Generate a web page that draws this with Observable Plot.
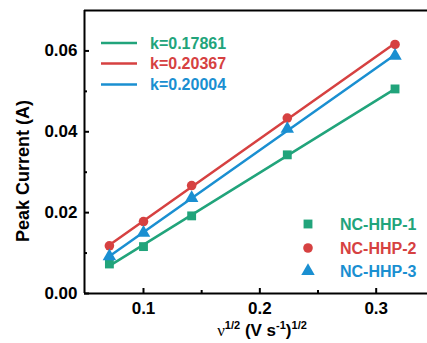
<!DOCTYPE html>
<html>
<head>
<meta charset="utf-8">
<script src="https://cdn.jsdelivr.net/npm/d3@7"></script>
<script src="https://cdn.jsdelivr.net/npm/@observablehq/plot@0.6"></script>
<style>
  html, body { margin: 0; padding: 0; background: white; }
  #chart { width: 427px; height: 343px; }
</style>
</head>
<body>
<div id="chart"></div>
<script>
// ---- data ----
const xVals = [0.0707, 0.1, 0.1414, 0.2236, 0.3162];
const hhp1 = [0.0073, 0.0116, 0.0192, 0.0343, 0.0506];
const hhp2 = [0.0118, 0.0178, 0.0267, 0.0434, 0.0616];
const hhp3 = [0.0092, 0.0150, 0.0236, 0.0407, 0.0588];
const seriesNames = ["NC-HHP-1", "NC-HHP-2", "NC-HHP-3"];
const slopeLabels = ["k=0.17861", "k=0.20367", "k=0.20004"];
const xMajor = [0.1, 0.2, 0.3];
const xMinor = [0.15, 0.25];
const yMajor = [0, 0.02, 0.04, 0.06];
const yMinor = [0.01, 0.03, 0.05];

// ---- styling ----
const colors = ["#21a47b", "#d64141", "#1a8fd1"];
const symbols = ["square", "circle", "triangle"];
const radii = [5, 4.8, 5];
const xDomain = [0.0493, 0.3441];
const yDomain = [0, 0.07];
const FONT = "'Liberation Sans', Arial, sans-serif";

const ys = [hhp1, hhp2, hhp3];
const data = seriesNames.flatMap((s, i) => xVals.map((x, j) => ({x, y: ys[i][j], s})));

const dotMarks = seriesNames.map((s, i) =>
  Plot.dot(data.filter(d => d.s === s), {
    x: "x", y: "y", fill: colors[i], symbol: () => symbols[i], r: radii[i], stroke: "none"
  })
);
const fitMarks = seriesNames.map((s, i) =>
  Plot.linearRegressionY(data.filter(d => d.s === s), {
    x: "x", y: "y", stroke: colors[i], strokeWidth: 2.5, ci: 0
  })
);

const svg = Plot.plot({
  width: 427, height: 343,
  marginLeft: 84, marginRight: 0, marginTop: 10, marginBottom: 50,
  style: {fontFamily: FONT, fontWeight: "bold", fontSize: "17px", color: "black", background: "white", overflow: "visible"},
  x: {domain: xDomain, label: null},
  y: {domain: yDomain, label: null},
  symbol: {domain: symbols, range: symbols},
  marks: [
    Plot.axisX({ticks: xMajor, tickSize: 0, tickPadding: 8, tickFormat: d => d.toFixed(1), label: null, fontSize: 17, fill: "black"}),
    Plot.axisX({ticks: xMajor, tickSize: 5, dy: -5, tickFormat: () => "", label: null, strokeWidth: 2}),
    Plot.axisX({ticks: xMinor, tickSize: 3, dy: -3, tickFormat: () => "", label: null, strokeWidth: 2}),
    Plot.axisY({ticks: yMajor, tickSize: 0, tickPadding: 7, tickFormat: d => d.toFixed(2), label: null, fontSize: 17, fill: "black"}),
    Plot.axisY({ticks: yMajor, tickSize: 5, dx: 5, tickFormat: () => "", label: null, strokeWidth: 2}),
    Plot.axisY({ticks: yMinor, tickSize: 3, dx: 3, tickFormat: () => "", label: null, strokeWidth: 2}),
    Plot.ruleY([yDomain[0]], {strokeWidth: 2}),
    Plot.ruleY([yDomain[1]], {strokeWidth: 2}),
    Plot.ruleX([xDomain[0]], {strokeWidth: 2}),
    ...fitMarks,
    ...dotMarks
  ]
});

const root = d3.select(svg);

// y axis title
root.append("text")
  .attr("transform", "translate(29,171) rotate(-90)")
  .attr("text-anchor", "middle")
  .style("font-family", FONT).style("font-weight", "bold").style("font-size", "18px")
  .attr("fill", "black")
  .text("Peak Current (A)");

// x axis title with superscripts
const xt = root.append("text")
  .attr("x", 262).attr("y", 336)
  .attr("text-anchor", "middle")
  .style("font-family", FONT).style("font-weight", "bold").style("font-size", "17px")
  .attr("fill", "black");
xt.append("tspan").style("font-family", "'Liberation Serif', 'Times New Roman', serif").style("font-weight", "normal").text("ν");
xt.append("tspan").attr("dy", -7).style("font-size", "11px").text("1/2");
xt.append("tspan").attr("dy", 7).text(" (V s");
xt.append("tspan").attr("dy", -7).style("font-size", "11px").text("-1");
xt.append("tspan").attr("dy", 7).text(")");
xt.append("tspan").attr("dy", -7).style("font-size", "11px").text("1/2");

// line legend (top-left)
const lineLegendY = [43, 63.5, 84.5];
seriesNames.forEach((s, i) => {
  root.append("line")
    .attr("x1", 101).attr("x2", 137)
    .attr("y1", lineLegendY[i]).attr("y2", lineLegendY[i])
    .attr("stroke", colors[i]).attr("stroke-width", 2.5);
  root.append("text")
    .attr("x", 150).attr("y", lineLegendY[i]).attr("dy", "0.36em")
    .attr("text-anchor", "start")
    .style("font-family", FONT).style("font-weight", "bold").style("font-size", "16px")
    .attr("fill", colors[i])
    .text(slopeLabels[i]);
});

// symbol legend (bottom-right)
const symLegendY = [224, 248, 271];
const symTypes = [d3.symbolSquare, d3.symbolCircle, d3.symbolTriangle];
seriesNames.forEach((s, i) => {
  root.append("path")
    .attr("transform", `translate(308,${symLegendY[i]})`)
    .attr("d", d3.symbol(symTypes[i], Math.PI * radii[i] * radii[i])())
    .attr("fill", colors[i]);
  root.append("text")
    .attr("x", 340).attr("y", symLegendY[i]).attr("dy", "0.36em")
    .attr("text-anchor", "start")
    .style("font-family", FONT).style("font-weight", "bold").style("font-size", "16px")
    .attr("fill", colors[i])
    .text(s);
});

document.getElementById("chart").appendChild(svg);
</script>
</body>
</html>
